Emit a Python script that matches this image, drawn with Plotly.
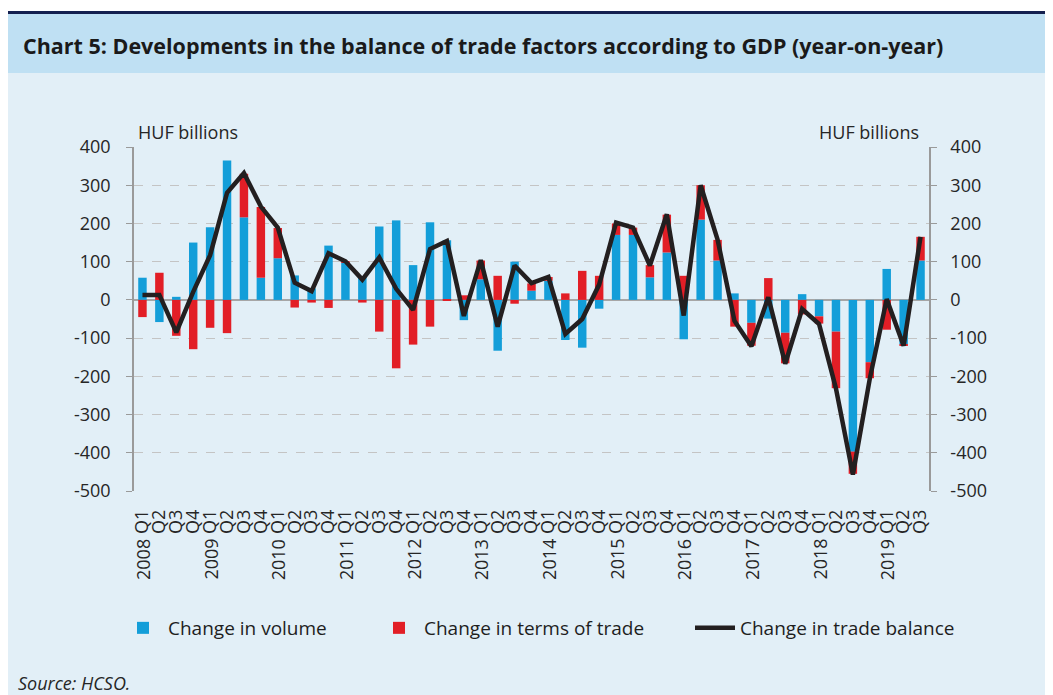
import plotly.graph_objects as go

years = ["2008", "2009", "2010", "2011", "2012", "2013", "2014", "2015", "2016", "2017", "2018", "2019"]
quarters = ["Q1", "Q2", "Q3", "Q4"] * 11 + ["Q1", "Q2", "Q3"]

volume = [58, -58, 8, 150,
          190, 365, 216, 58,
          109, 64, 30, 142,
          98, 60, 192, 208,
          91, 203, 156, -53,
          54, -133, 100, 24,
          50, -105, -125, -23,
          170, 170, 59, 124,
          -103, 210, 103, 17,
          -60, -49, -86, 15,
          -43, -83, -397, -163,
          81, -116, 103]

terms = [-45, 71, -94, -129,
         -73, -87, 114, 185,
         79, -20, -7, -21,
         3, -7, -83, -179,
         -117, -70, -2, 12,
         49, 63, -10, 19,
         10, 17, 76, 63,
         30, 19, 32, 99,
         63, 90, 54, -70,
         -60, 57, -80, -38,
         -19, -148, -58, -42,
         -78, -4, 62]

balance = [13, 13, -85, 21,
           117, 280, 332, 244,
           189, 45, 23, 122,
           101, 53, 111, 29,
           -26, 133, 154, -42,
           104, -70, 90, 44,
           60, -89, -50, 40,
           202, 189, 90, 224,
           -41, 300, 158, -55,
           -121, 7, -167, -24,
           -63, -232, -457, -206,
           2, -120, 165]

ytick_vals = [400, 300, 200, 100, 0, -100, -200, -300, -400, -500]
ytick_text = [str(v) for v in ytick_vals]

W, H = 1053, 695
OFF = 8  # page body margin
# plot area in screen pixels
L, R, T, B = 134, 929, 147, 491
FONT = "Open Sans"
TXT = "#262626"

def px(x):
    return (x - L) / (R - L)

def py(y):
    return (B - y) / (B - T)

xs = list(range(len(quarters)))

fig = go.Figure()
fig.add_trace(go.Bar(x=xs, y=volume, name="Change in volume", legend="legend",
                     marker=dict(color="#139ed9", line=dict(width=0))))
fig.add_trace(go.Bar(x=xs, y=terms, name="Change in terms of trade", legend="legend2",
                     marker=dict(color="#e21e26", line=dict(width=0))))
fig.add_trace(go.Scatter(x=xs, y=balance, name="Change in trade balance", mode="lines",
                         legend="legend3",
                         line=dict(color="#231f20", width=4.5), yaxis="y2"))

shapes = [
    dict(type="rect", xref="paper", yref="paper", x0=px(0), x1=px(W + 20), y0=py(0), y1=py(11),
         fillcolor="#ffffff", line=dict(width=0), layer="below"),
    dict(type="rect", xref="paper", yref="paper", x0=px(0), x1=px(W + 20), y0=py(11), y1=py(14),
         fillcolor="#14204f", line=dict(width=0), layer="below"),
    dict(type="rect", xref="paper", yref="paper", x0=px(0), x1=px(W + 20), y0=py(14), y1=py(73),
         fillcolor="#bfe0f3", line=dict(width=0), layer="below"),
]

annotations = [
    dict(text="<b>Chart 5: Developments in the balance of trade factors according to GDP (year-on-year)</b>",
         xref="paper", yref="paper", x=px(21), y=py(46), xanchor="left", yanchor="middle",
         showarrow=False, font=dict(family=FONT, size=21.5, color="#1a1a1a")),
    dict(text="HUF billions", xref="paper", yref="paper", x=px(136), y=py(132),
         xanchor="left", yanchor="middle", showarrow=False,
         font=dict(family=FONT, size=18, color=TXT)),
    dict(text="HUF billions", xref="paper", yref="paper", x=px(921), y=py(132),
         xanchor="right", yanchor="middle", showarrow=False,
         font=dict(family=FONT, size=18, color=TXT)),
    dict(text="<i>Source: HCSO.</i>", xref="paper", yref="paper", x=px(16), y=py(683),
         xanchor="left", yanchor="middle", showarrow=False,
         font=dict(family=FONT, size=18, color=TXT)),
]
for i, yr in enumerate(years):
    annotations.append(dict(text=yr, xref="x", yref="paper", x=4 * i, y=py(537),
                            xanchor="center", yanchor="top", textangle=-90, showarrow=False,
                            font=dict(family=FONT, size=18, color=TXT)))

yaxis_common = dict(range=[-500, 400], tickvals=ytick_vals, ticktext=ytick_text,
                    ticks="outside", ticklen=6, tickcolor="#9a9a9a", tickwidth=1.3,
                    showline=True, linecolor="#9a9a9a", linewidth=1.5,
                    tickfont=dict(family=FONT, size=18, color=TXT))

def legend_at(xscreen):
    return dict(orientation="h", x=px(xscreen), y=py(628), xanchor="left", yanchor="middle",
                bgcolor="rgba(0,0,0,0)", font=dict(family=FONT, size=19, color="#1e1e1e"),
                itemwidth=40)

fig.update_layout(
    width=W, height=H,
    margin=dict(l=L - OFF, r=W - (R - OFF), t=T - OFF, b=H - (B - OFF), autoexpand=False),
    paper_bgcolor="#e2eff7", plot_bgcolor="#e2eff7",
    barmode="relative", bargap=0.5,
    shapes=shapes, annotations=annotations,
    xaxis=dict(range=[-0.5, len(quarters) - 0.5], tickvals=xs, ticktext=quarters,
               tickangle=-90, ticks="", showgrid=False, zeroline=False, showline=False,
               ticklabelstandoff=14, tickfont=dict(family=FONT, size=18, color=TXT)),
    yaxis=dict(**yaxis_common, showgrid=True, gridcolor="#c4c4c4", griddash="dash", gridwidth=1.3,
               zeroline=True, zerolinecolor="#a6a6a6", zerolinewidth=1.5,
               ticklabelstandoff=12),
    yaxis2=dict(**yaxis_common, overlaying="y", side="right", showgrid=False, zeroline=False,
                ticklabelstandoff=10),
    legend=legend_at(118),
    legend2=legend_at(374),
    legend3=legend_at(690),
    showlegend=True,
)

fig.write_html("out.html")
